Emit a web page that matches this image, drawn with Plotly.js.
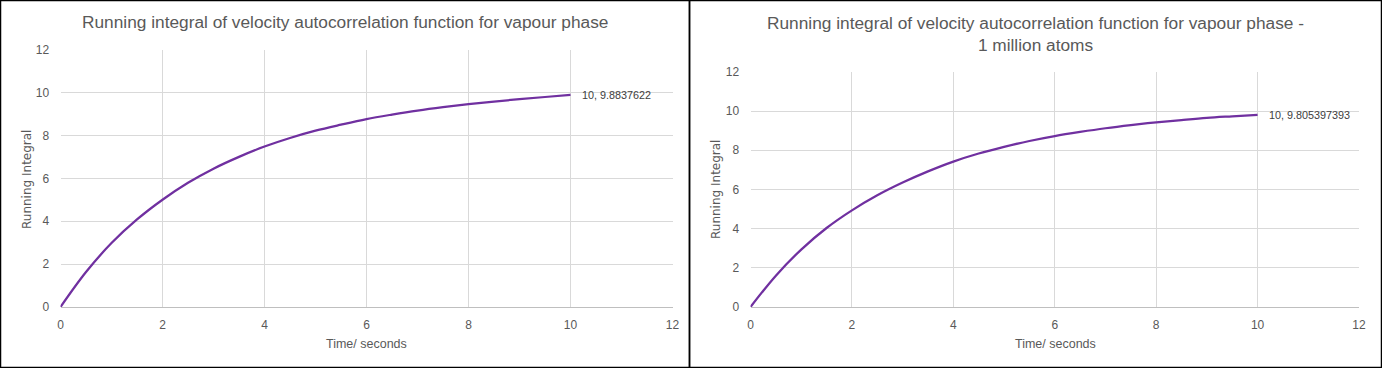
<!DOCTYPE html>
<html>
<head>
<meta charset="utf-8">
<script src="https://cdn.plot.ly/plotly-3.0.1.min.js"></script>
<style>html,body{margin:0;padding:0;background:#fff;}#chart{width:1382px;height:368px;}</style>
</head>
<body>
<div id="chart"></div>
<script>
// Time (seconds)
const time = [0,0.5,1,1.5,2,2.5,3,3.5,4,4.5,5,5.5,6,6.5,7,7.5,8,8.5,9,9.5,10];
// Running integral, vapour phase
const integralVapour = [0,1.63,2.98,4.08,5.0,5.79,6.45,7.0,7.48,7.88,8.22,8.5,8.76,8.97,9.16,9.32,9.46,9.58,9.69,9.79,9.8837622];
// Running integral, vapour phase - 1 million atoms
const integralMillion = [0,1.6,2.93,4.03,4.93,5.7,6.35,6.92,7.42,7.83,8.17,8.47,8.72,8.93,9.12,9.28,9.42,9.54,9.65,9.73,9.805397393];
const tickVals = [0,2,4,6,8,10,12];
const titles = ["Running integral of velocity autocorrelation function for vapour phase",
                "Running integral of velocity autocorrelation function for vapour phase -<br>1 million atoms"];
const xTitle = "Time/ seconds";
const yTitle = "Running Integral";

const W = 1382, H = 368;
const px = v => v / W, py = v => 1 - v / H;
const lineColor = "#7030A0";
const txt = "#595959";
const font = "Liberation Sans, Arial, sans-serif";

const traces = [
  {x: time, y: integralVapour, xaxis: "x", yaxis: "y", mode: "lines", line: {color: lineColor, width: 2.25, shape: "spline"}, hoverinfo: "x+y"},
  {x: time, y: integralMillion, xaxis: "x2", yaxis: "y2", mode: "lines", line: {color: lineColor, width: 2.25, shape: "spline"}, hoverinfo: "x+y"}
];

function xax(dom, anchor) {
  return {domain: dom, anchor: anchor, range: [0, 12], tickvals: tickVals, showgrid: true, gridcolor: "#d9d9d9",
    zeroline: false, showline: true, linecolor: "#bfbfbf", linewidth: 1, ticks: "outside", ticklen: 7,
    tickcolor: "rgba(0,0,0,0)", tickfont: {family: font, size: 12, color: txt}, fixedrange: true};
}
function yax(dom, anchor) {
  return {domain: dom, anchor: anchor, range: [0, 12], tickvals: tickVals, showgrid: true, gridcolor: "#d9d9d9",
    zeroline: false, showline: false, ticks: "outside", ticklen: 8, tickcolor: "rgba(0,0,0,0)",
    tickfont: {family: font, size: 12, color: txt}, fixedrange: true};
}

const lastV = integralVapour[integralVapour.length - 1];
const lastM = integralMillion[integralMillion.length - 1];
const lastT = time[time.length - 1];

const layout = {
  width: W, height: H, margin: {l: 0, r: 0, t: 0, b: 0}, showlegend: false,
  paper_bgcolor: "#fff", plot_bgcolor: "#fff",
  xaxis: xax([px(60.5), px(672.5)], "y"),
  yaxis: yax([1 - 307 / H, 1 - 49.6 / H], "x"),
  xaxis2: xax([px(750.5), px(1359)], "y2"),
  yaxis2: yax([1 - 307 / H, 1 - 71.8 / H], "x2"),
  shapes: [
    {type: "rect", xref: "paper", yref: "paper", x0: px(0.5), x1: px(689.5), y0: py(367.5), y1: py(0.5), line: {color: "#000", width: 1.5}},
    {type: "rect", xref: "paper", yref: "paper", x0: px(689.5), x1: px(1381.5), y0: py(367.5), y1: py(0.5), line: {color: "#000", width: 1.5}}
  ],
  annotations: [
    {text: titles[0], xref: "paper", yref: "paper", x: px(345), y: py(22), xanchor: "center", yanchor: "middle", showarrow: false, font: {family: font, size: 17.3, color: txt}},
    {text: titles[1], xref: "paper", yref: "paper", x: px(1035), y: py(34), xanchor: "center", yanchor: "middle", showarrow: false, font: {family: font, size: 17.3, color: txt}},
    {text: xTitle, xref: "paper", yref: "paper", x: px(366), y: py(344), xanchor: "center", yanchor: "middle", showarrow: false, font: {family: font, size: 12.5, color: txt}},
    {text: xTitle, xref: "paper", yref: "paper", x: px(1055), y: py(344), xanchor: "center", yanchor: "middle", showarrow: false, font: {family: font, size: 12.5, color: txt}},
    {text: yTitle, xref: "paper", yref: "paper", x: px(27), y: py(179), textangle: -90, xanchor: "center", yanchor: "middle", showarrow: false, font: {family: "DejaVu Sans, sans-serif", size: 12, color: txt}},
    {text: yTitle, xref: "paper", yref: "paper", x: px(716), y: py(190), textangle: -90, xanchor: "center", yanchor: "middle", showarrow: false, font: {family: "DejaVu Sans, sans-serif", size: 12, color: txt}},
    {text: lastT + ", " + lastV, xref: "x", yref: "y", x: lastT, y: lastV, xanchor: "left", yanchor: "middle", xshift: 9, showarrow: false, font: {family: font, size: 10.8, color: "#404040"}},
    {text: lastT + ", " + lastM, xref: "x2", yref: "y2", x: lastT, y: lastM, xanchor: "left", yanchor: "middle", xshift: 9, showarrow: false, font: {family: font, size: 10.8, color: "#404040"}}
  ]
};

Plotly.newPlot("chart", traces, layout, {displayModeBar: false, staticPlot: true});
</script>
</body>
</html>
